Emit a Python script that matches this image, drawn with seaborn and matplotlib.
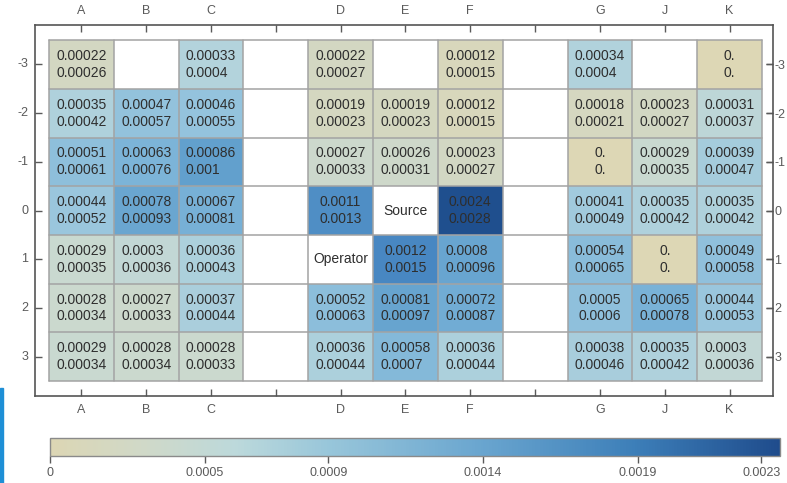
import numpy as np
import pandas as pd
import seaborn as sns
import matplotlib.pyplot as plt
from matplotlib.colors import LinearSegmentedColormap, Normalize
from matplotlib.cm import ScalarMappable
from matplotlib.patches import Rectangle

# Grid layout: detector columns (blank entries are spacer columns) and row offsets
columns = ["A", "B", "C", "", "D", "E", "F", "", "G", "J", "K"]
rows = [-3, -2, -1, 0, 1, 2, 3]

nan = np.nan
# Upper dose value in each cell
upper = [
    [0.00022, nan, 0.00033, nan, 0.00022, nan, 0.00012, nan, 0.00034, nan, 0.0],
    [0.00035, 0.00047, 0.00046, nan, 0.00019, 0.00019, 0.00012, nan, 0.00018, 0.00023, 0.00031],
    [0.00051, 0.00063, 0.00086, nan, 0.00027, 0.00026, 0.00023, nan, 0.0, 0.00029, 0.00039],
    [0.00044, 0.00078, 0.00067, nan, 0.0011, nan, 0.0024, nan, 0.00041, 0.00035, 0.00035],
    [0.00029, 0.0003, 0.00036, nan, nan, 0.0012, 0.0008, nan, 0.00054, 0.0, 0.00049],
    [0.00028, 0.00027, 0.00037, nan, 0.00052, 0.00081, 0.00072, nan, 0.0005, 0.00065, 0.00044],
    [0.00029, 0.00028, 0.00028, nan, 0.00036, 0.00058, 0.00036, nan, 0.00038, 0.00035, 0.0003],
]
# Lower dose value in each cell
lower = [
    [0.00026, nan, 0.0004, nan, 0.00027, nan, 0.00015, nan, 0.0004, nan, 0.0],
    [0.00042, 0.00057, 0.00055, nan, 0.00023, 0.00023, 0.00015, nan, 0.00021, 0.00027, 0.00037],
    [0.00061, 0.00076, 0.001, nan, 0.00033, 0.00031, 0.00027, nan, 0.0, 0.00035, 0.00047],
    [0.00052, 0.00093, 0.00081, nan, 0.0013, nan, 0.0028, nan, 0.00049, 0.00042, 0.00042],
    [0.00035, 0.00036, 0.00043, nan, nan, 0.0015, 0.00096, nan, 0.00065, 0.0, 0.00058],
    [0.00034, 0.00033, 0.00044, nan, 0.00063, 0.00097, 0.00087, nan, 0.0006, 0.00078, 0.00053],
    [0.00034, 0.00034, 0.00033, nan, 0.00044, 0.0007, 0.00044, nan, 0.00046, 0.00042, 0.00036],
]
# Named positions (row, column) shown as text instead of values
markers = {(0, "E"): "Source", (1, "D"): "Operator"}

# Colour bar ticks
cbar_ticks = [0, 0.0005, 0.0009, 0.0014, 0.0019, 0.0023]
cbar_labels = ["0", "0.0005", "0.0009", "0.0014", "0.0019", "0.0023"]


def fmt(v):
    return "0." if v == 0 else f"{v:g}"


up = pd.DataFrame(upper, index=rows, columns=range(len(columns)))
lo = pd.DataFrame(lower, index=rows, columns=range(len(columns)))
pair_text = np.vectorize(lambda a, b: "" if np.isnan(a) else f"{fmt(a)}\n{fmt(b)}")
labels = pair_text(up.values, lo.values)

cell_vmax = 0.0024
cell_stops = [
    (0.0, "#ddd7b5"), (0.00022, "#d3d7c2"), (0.00029, "#c8d9d2"), (0.00033, "#b3d3dc"),
    (0.00045, "#96c4dd"), (0.00065, "#79b2d7"), (0.00085, "#62a0cd"), (0.0012, "#4887c2"),
    (0.0024, "#1f4f8e"),
]
cell_cmap = LinearSegmentedColormap.from_list(
    "cells", [(v / cell_vmax, c) for v, c in cell_stops])

bar_vmax = 0.00236
bar_stops = [
    (0.0, "#dcd6b4"), (0.0003, "#d0d9c8"), (0.0006, "#bcd9db"), (0.0009, "#98c6da"),
    (0.0014, "#69a5cf"), (0.0019, "#3c7eb8"), (bar_vmax, "#1f4c8c"),
]
bar_cmap = LinearSegmentedColormap.from_list(
    "bar", [(v / bar_vmax, c) for v, c in bar_stops])

sns.set_theme(style="white")
plt.rcParams["font.family"] = ["Liberation Sans", "DejaVu Sans"]

fig = plt.figure(figsize=(7.87, 4.83), dpi=100)
ax = fig.add_axes([0.0445, 0.1801, 0.9377, 0.768])

text_color = "#2e2e2e"
sns.heatmap(up, ax=ax, cmap=cell_cmap, vmin=0, vmax=cell_vmax, cbar=False,
            annot=labels, fmt="",
            annot_kws=dict(fontsize=10, color=text_color, multialignment="left",
                           linespacing=1.25))

nrow, ncol = len(rows), len(columns)
for (r, c), txt in markers.items():
    ax.text(columns.index(c) + 0.5, rows.index(r) + 0.5, txt, ha="center", va="center",
            fontsize=10, color=text_color)

# cell borders across the whole grid, including empty cells
grid_color = "#a3a3a3"
for x in range(ncol + 1):
    ax.plot([x, x], [0, nrow], color=grid_color, lw=1.1, zorder=3)
for y in range(nrow + 1):
    ax.plot([0, ncol], [y, y], color=grid_color, lw=1.1, zorder=3)

ax.set_xlim(-0.216, ncol + 0.17)
ax.set_ylim(nrow + 0.31, -0.31)

tick_color = "#5a5a5a"
ax.set_xticks(np.arange(ncol) + 0.5)
ax.set_xticklabels(columns, rotation=0)
ax.set_yticks(np.arange(nrow) + 0.5)
ax.set_yticklabels([str(r) for r in rows], rotation=0)
ax.tick_params(axis="both", which="both", direction="in", length=5, width=1,
               color=tick_color, labelcolor=tick_color, labelsize=9,
               top=True, bottom=True, left=True, right=True,
               labeltop=True, labelbottom=True, labelleft=True, labelright=False,
               pad=5)
ax.tick_params(axis="x", pad=6)
ax.set_xlabel("")
ax.set_ylabel("")
for s in ax.spines.values():
    s.set_visible(True)
    s.set_color("#555555")
    s.set_linewidth(1.2)

# right-side labels placed with a smaller gap so they stay on the canvas
ax2 = ax.secondary_yaxis("right")
ax2.set_yticks(np.arange(nrow) + 0.5)
ax2.set_yticklabels([str(r) for r in rows])
ax2.tick_params(axis="y", direction="in", length=5, width=1, color=tick_color,
                labelcolor=tick_color, labelsize=9, pad=1)
ax2.spines["right"].set_visible(False)

# colour bar
cax = fig.add_axes([0.0635, 0.0559, 0.9276, 0.0373])
sm = ScalarMappable(norm=Normalize(0, bar_vmax), cmap=bar_cmap)
cb = fig.colorbar(sm, cax=cax, orientation="horizontal")
cb.set_ticks(cbar_ticks)
cb.set_ticklabels(cbar_labels)
cb.outline.set_edgecolor("#8a8a8a")
cb.outline.set_linewidth(1)
cax.tick_params(axis="x", direction="out", length=5, width=1, color=tick_color,
                labelcolor=tick_color, labelsize=9, pad=3)

# blue edge strip at the lower left
fig.patches.append(Rectangle((0, 0), 0.004, 0.197, transform=fig.transFigure,
                             color="#1e8fd6", zorder=0))

fig.savefig("out.png", dpi=100)
